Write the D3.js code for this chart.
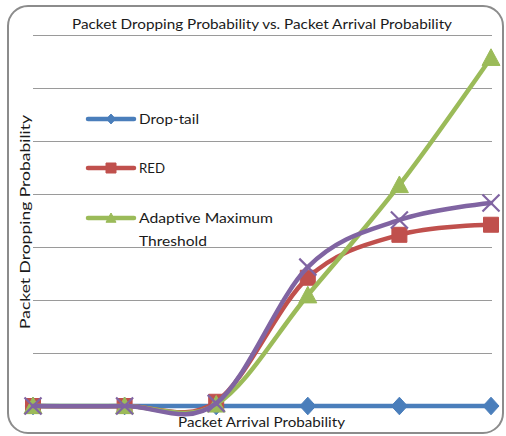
<!DOCTYPE html>
<html>
<head>
<meta charset="utf-8">
<script src="https://cdn.jsdelivr.net/npm/d3@7"></script>
<style>
  html, body { margin: 0; padding: 0; background: #ffffff; }
  svg { display: block; }
  text { font-family: Lato, "Open Sans", "Liberation Sans", sans-serif; fill: #1a1a1a; }
</style>
</head>
<body>
<svg id="chart" width="506" height="436"></svg>
<script>
// Packet arrival probability steps (category axis, labels are not shown)
const categories = ["0.1", "0.2", "0.3", "0.4", "0.5", "0.6"];

// Packet dropping probability for each queue management scheme
const dropTail = [0, 0, 0, 0, 0, 0];
const red = [0, 0, 0.008, 0.242, 0.323, 0.342];
const adaptiveMaxThreshold = [0, 0, 0.003, 0.209, 0.417, 0.657];
const proposed = [0, 0, 0.005, 0.262, 0.351, 0.383];

// Horizontal gridline values
const yTicks = [0, 0.1, 0.2, 0.3, 0.4, 0.5, 0.6, 0.7];

const series = [
  { name: "Drop-tail", values: dropTail, color: "#4a7ebb", marker: "diamond", legend: true },
  { name: "RED", values: red, color: "#c0504d", marker: "square", legend: true },
  { name: "Adaptive Maximum Threshold", values: adaptiveMaxThreshold, color: "#9bbb59", marker: "triangle", legend: true },
  { name: "", values: proposed, color: "#8064a2", marker: "x", legend: false }
];

const svg = d3.select("#chart");

const plot = { left: 33, right: 491, top: 35, bottom: 406 };

const x = d3.scalePoint().domain(categories).range([plot.left, plot.right]);
const y = d3.scaleLinear().domain([0, 0.7]).range([plot.bottom, plot.top]);

// Rounded chart-area border
svg.append("rect")
  .attr("x", 8).attr("y", 6)
  .attr("width", 495).attr("height", 427)
  .attr("rx", 20).attr("ry", 20)
  .attr("fill", "#ffffff")
  .attr("stroke", "#8c8c8c")
  .attr("stroke-width", 2);

// Gridlines
svg.append("g")
  .selectAll("line")
  .data(yTicks)
  .join("line")
  .attr("x1", plot.left)
  .attr("x2", plot.right + 1)
  .attr("y1", d => Math.round(y(d)) + 0.5)
  .attr("y2", d => Math.round(y(d)) + 0.5)
  .attr("stroke", "#9a9a9a")
  .attr("stroke-width", 1);

// Title
svg.append("text")
  .attr("x", 262).attr("y", 29)
  .attr("text-anchor", "middle")
  .attr("font-size", 14)
  .attr("textLength", 380)
  .attr("lengthAdjust", "spacingAndGlyphs")
  .text("Packet Dropping Probability vs. Packet Arrival Probability");

// Axis titles
svg.append("text")
  .attr("transform", "translate(30,222) rotate(-90)")
  .attr("text-anchor", "middle")
  .attr("font-size", 14)
  .attr("textLength", 214)
  .attr("lengthAdjust", "spacingAndGlyphs")
  .text("Packet Dropping Probability");

// Marker path generators
function markerPath(type, s) {
  const h = s / 2;
  switch (type) {
    case "diamond": return `M0,${-h * 1.1}L${h},0L0,${h * 1.1}L${-h},0Z`;
    case "square": return `M${-h},${-h}H${h}V${h}H${-h}Z`;
    case "triangle": return `M0,${-h}L${h},${h * 0.85}L${-h},${h * 0.85}Z`;
    case "x": return `M${-h},${-h}L${h},${h}M${h},${-h}L${-h},${h}`;
  }
}
const markerSize = { diamond: 16, square: 15, triangle: 18, x: 17 };

const line = d3.line()
  .x((d, i) => x(categories[i]))
  .y(d => y(d))
  .curve(d3.curveCardinal.tension(0));

series.forEach(s => {
  const g = svg.append("g");
  g.append("path")
    .attr("d", line(s.values))
    .attr("fill", "none")
    .attr("stroke", s.color)
    .attr("stroke-width", 4.5)
    .attr("stroke-linejoin", "round")
    .attr("stroke-linecap", "round");
  g.selectAll("path.m")
    .data(s.values)
    .join("path")
    .attr("class", "m")
    .attr("transform", (d, i) => `translate(${x(categories[i])},${y(d)})`)
    .attr("d", markerPath(s.marker, markerSize[s.marker]))
    .attr("fill", s.marker === "x" ? "none" : s.color)
    .attr("stroke", s.color)
    .attr("stroke-width", s.marker === "x" ? 2.2 : 1);
});

// Horizontal axis title (sits over the baseline)
svg.append("text")
  .attr("x", 261.5).attr("y", 427)
  .attr("text-anchor", "middle")
  .attr("font-size", 14)
  .attr("textLength", 167)
  .attr("lengthAdjust", "spacingAndGlyphs")
  .text("Packet Arrival Probability");

// Legend
const legendItems = series.filter(s => s.legend);
const legendRows = [
  { lines: ["Drop-tail"], widths: [60], cy: 119 },
  { lines: ["RED"], widths: [26], cy: 168 },
  { lines: ["Adaptive Maximum", "Threshold"], widths: [134, 68], cy: 218 }
];
const legendMarkerSize = { diamond: 9, square: 10, triangle: 10, x: 9 };
legendItems.forEach((s, i) => {
  const row = legendRows[i];
  const g = svg.append("g");
  g.append("line")
    .attr("x1", 88).attr("x2", 134)
    .attr("y1", row.cy).attr("y2", row.cy)
    .attr("stroke", s.color)
    .attr("stroke-width", 4.5)
    .attr("stroke-linecap", "round");
  g.append("path")
    .attr("transform", `translate(111,${row.cy})`)
    .attr("d", markerPath(s.marker, legendMarkerSize[s.marker]))
    .attr("fill", s.color)
    .attr("stroke", s.color);
  row.lines.forEach((t, j) => {
    g.append("text")
      .attr("x", 139)
      .attr("y", row.cy + 5 + j * 23)
      .attr("font-size", 14)
      .attr("textLength", row.widths[j])
      .attr("lengthAdjust", "spacingAndGlyphs")
      .text(t);
  });
});
</script>
</body>
</html>
